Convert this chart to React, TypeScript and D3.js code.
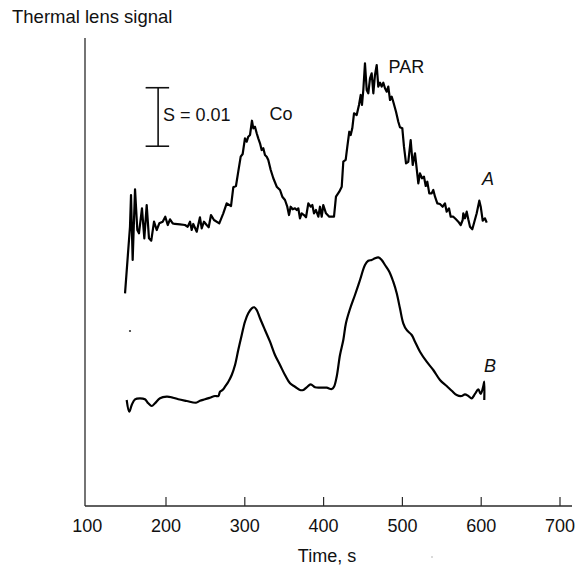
import React from "react";
import * as d3 from "d3";

// Time axis ticks (s)
const xTicks = [100, 200, 300, 400, 500, 600, 700];

// Trace A: time (s) and thermal lens signal (units of 1e-3)
const timeA = [148.0,154.3,155.6,157.7,160.7,163.6,165.7,169.5,172.5,175.5,178.4,181.3,184.8,188.2,191.5,195.8,199.1,202.2,205.1,208.5,211.4,217.8,224.1,227.5,230.5,232.6,234.6,239.0,243.1,245.3,248.2,251.6,254.2,257.1,260.9,267.6,272.7,277.0,282.5,285.4,288.8,291.7,294.8,297.3,300.2,302.4,304.4,306.6,309.1,310.8,312.9,315.1,317.1,319.3,321.4,323.5,325.6,327.8,329.8,332.9,336.2,340.5,344.7,347.6,351.0,353.9,356.1,358.2,360.8,363.7,365.9,367.9,370.0,372.2,375.1,377.7,380.6,383.6,385.7,387.8,390.3,393.3,395.4,397.6,399.6,403.0,407.2,413.2,415.7,419.9,423.0,425.0,428.0,430.1,432.6,434.4,436.4,438.6,442.0,444.9,447.1,448.7,450.4,452.5,454.7,456.7,458.9,461.0,463.1,465.2,467.4,469.4,471.6,473.7,475.8,477.9,480.1,482.1,484.3,486.4,488.4,491.9,494.8,496.9,499.9,502.0,504.6,507.5,510.5,513.1,516.0,518.1,520.2,522.3,524.9,527.4,529.6,531.6,534.1,537.2,539.2,541.4,544.3,547.7,551.1,554.0,556.2,559.1,561.3,564.6,568.0,570.9,574.0,576.5,577.3,579.4,581.6,583.6,585.8,588.7,590.8,594.3,597.6,599.4,601.9,604.8,607.0];
const signalA = [36.36,47.74,53.16,42.05,54.14,47.18,46.62,50.89,45.76,51.45,45.76,45.35,48.60,47.18,48.32,48.60,49.45,48.03,49.01,48.32,48.21,48.15,48.03,47.74,48.60,47.18,48.21,46.89,49.35,47.47,48.60,48.03,47.64,49.74,48.89,48.32,50.03,51.74,51.28,54.48,54.70,57.15,59.71,60.17,62.85,62.27,63.13,63.42,65.86,64.56,64.84,63.71,62.85,62.00,60.85,61.15,60.00,59.71,59.15,57.44,56.02,54.58,54.02,52.87,52.31,51.16,49.74,51.16,50.72,50.89,50.60,50.89,49.18,50.03,49.74,49.35,51.74,51.16,51.45,50.03,50.60,49.45,51.16,49.45,51.45,50.03,49.45,49.45,52.87,53.73,54.58,58.85,59.15,61.42,63.98,63.42,64.56,67.13,66.84,68.55,70.26,68.55,71.11,75.68,71.11,70.55,73.11,73.97,70.55,73.68,75.38,71.68,72.36,71.68,72.36,71.40,70.82,71.68,69.40,69.97,69.11,67.40,65.69,64.74,64.56,61.42,58.58,58.85,62.56,58.29,60.29,57.73,55.16,56.87,56.02,56.29,54.70,55.44,53.45,53.45,54.02,52.87,51.74,51.62,51.16,51.74,50.31,50.89,49.45,49.45,49.01,48.60,48.03,48.89,50.03,49.18,50.31,49.01,47.74,47.30,48.32,50.03,52.19,51.16,48.77,49.18,48.43];

// Trace B: time (s) and thermal lens signal (units of 1e-3)
const timeB = [150.1,153.4,156.5,160.7,167.0,173.3,177.5,181.9,186.0,192.4,200.9,207.2,215.6,226.3,238.1,243.1,249.5,255.8,262.2,266.4,268.5,270.7,272.7,274.9,279.1,283.4,287.6,291.7,296.1,300.2,304.4,308.8,312.0,315.1,319.3,325.6,332.0,338.3,344.7,351.0,357.4,363.7,370.0,374.2,378.5,383.6,389.1,395.4,403.9,410.3,413.2,416.6,420.8,425.0,428.4,433.5,439.8,446.2,452.5,456.7,461.0,465.2,469.4,473.7,477.9,483.4,488.4,492.8,496.9,501.1,505.4,511.8,516.0,522.3,530.8,539.2,547.7,556.2,562.6,568.9,575.2,579.4,583.6,587.9,592.1,596.3,599.4,602.7,603.9,603.9];
const signalB = [18.12,16.12,17.26,18.24,18.41,18.24,17.56,17.09,17.56,18.41,18.68,18.58,18.24,17.95,17.66,18.00,18.24,18.51,18.80,18.80,19.54,19.71,19.95,20.39,21.25,22.39,24.10,26.67,29.23,31.50,32.94,33.79,33.97,33.50,32.09,30.09,28.09,25.81,24.10,22.39,20.97,20.39,19.83,19.83,20.29,20.80,20.29,20.22,20.22,20.00,20.39,22.10,25.81,28.38,31.28,33.68,36.07,38.63,41.20,41.93,42.05,42.34,42.51,42.05,41.20,40.05,38.34,36.36,33.79,31.23,30.09,29.23,28.09,26.38,24.67,23.25,21.54,20.51,19.71,18.97,18.80,19.09,18.80,18.41,19.15,19.95,19.15,20.51,21.25,18.12];

const W = 578;
const H = 567;
const FONT = "'Liberation Sans', Arial, Helvetica, sans-serif";

export default function App() {
  const x = d3.scaleLinear().domain([100, 700]).range([87.2, 560]);
  const y = d3.scaleLinear().domain([0, 80]).range([506, 38]);

  const ptsA = timeA.map((t, i) => [t, signalA[i]] as [number, number]);
  const ptsB = timeB.map((t, i) => [t, signalB[i]] as [number, number]);

  const lineA = d3
    .line<[number, number]>()
    .x((d) => x(d[0]))
    .y((d) => y(d[1]))
    .curve(d3.curveLinear);
  const lineB = d3
    .line<[number, number]>()
    .x((d) => x(d[0]))
    .y((d) => y(d[1]))
    .curve(d3.curveCatmullRom.alpha(0.5));

  const axisColor = "#2a2a2a";
  const x0 = 85;
  const y0 = y(0);

  // scale bar: 0.01 = 10 units
  const barX = x(190);
  const barTop = y(71.5);
  const barBot = y(61.5);

  return (
    <svg
      width={W}
      height={H}
      style={{ position: "absolute", left: 0, top: 0, background: "#fff" }}
      fontFamily={FONT}
    >
      <rect x={0} y={0} width={W} height={H} fill="#fff" />
      {/* axes */}
      <line x1={x0} y1={38} x2={x0} y2={y0} stroke={axisColor} strokeWidth={1.3} />
      <line x1={x0} y1={y0} x2={572} y2={y0} stroke={axisColor} strokeWidth={1.3} />
      {xTicks.map((t) => (
        <g key={t}>
          {t > 100 && (
            <line x1={x(t)} x2={x(t)} y1={y0} y2={y0 - 9} stroke={axisColor} strokeWidth={1.2} />
          )}
          <text x={x(t)} y={532} textAnchor="middle" fontSize={18} fill="#111">
            {t}
          </text>
        </g>
      ))}
      <text x={327} y={562} textAnchor="middle" fontSize={18} fill="#111">
        Time, s
      </text>
      <text x={12} y={23} fontSize={18.5} fill="#111">
        Thermal lens signal
      </text>

      {/* scale bar */}
      <line x1={barX} x2={barX} y1={barTop} y2={barBot} stroke="#111" strokeWidth={1.6} />
      <line x1={barX - 12.5} x2={barX + 11} y1={barTop} y2={barTop} stroke="#111" strokeWidth={1.6} />
      <line x1={barX - 12.5} x2={barX + 11} y1={barBot} y2={barBot} stroke="#111" strokeWidth={1.6} />
      <text x={163} y={121} fontSize={18} fill="#111">
        S = 0.01
      </text>

      {/* traces */}
      <path d={lineA(ptsA) || ""} fill="none" stroke="#000" strokeWidth={2.2} strokeLinejoin="round" />
      <path d={lineB(ptsB) || ""} fill="none" stroke="#000" strokeWidth={2.2} strokeLinejoin="round" />

      {/* labels */}
      <text x={269.5} y={119.5} fontSize={18} fill="#111">Co</text>
      <text x={388.5} y={72.5} fontSize={18} fill="#111">PAR</text>
      <text x={482} y={185} fontSize={18} fontStyle="italic" fill="#111">A</text>
      <text x={484} y={372} fontSize={18} fontStyle="italic" fill="#111">B</text>

      {/* small specks from the original print */}
      <circle cx={130} cy={331} r={1.1} fill="#333" />
      <circle cx={432} cy={557} r={0.7} fill="#999" />
    </svg>
  );
}
